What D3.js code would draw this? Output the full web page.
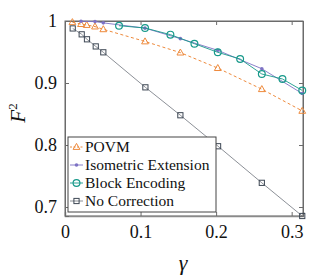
<!DOCTYPE html>
<html>
<head>
<meta charset="utf-8">
<script src="https://cdn.jsdelivr.net/npm/d3@7"></script>
<style>
  body { margin: 0; background: #fff; }
</style>
</head>
<body>
<div id="chart"></div>
<script>
const W = 334, H = 278;
const margin = {left: 65, right: 31, top: 21, bottom: 62};
const serif = "'Liberation Serif'";

// data
const gamma_povm = [0.0098, 0.0212, 0.0287, 0.0397, 0.0507, 0.1059, 0.1527, 0.2022, 0.2605, 0.314];
const f2_povm = [0.998, 0.995, 0.9935, 0.991, 0.9866, 0.967, 0.949, 0.924, 0.890, 0.855];

const gamma_iso = [0.0212, 0.0397, 0.0507, 0.1059, 0.1527, 0.2022, 0.2605, 0.314];
const f2_iso = [0.9995, 0.999, 0.997, 0.9885, 0.9715, 0.9527, 0.923, 0.883];

const gamma_block = [0.0715, 0.1059, 0.1395, 0.1713, 0.2022, 0.2318, 0.2605, 0.2878, 0.314];
const f2_block = [0.9924, 0.9887, 0.978, 0.9634, 0.9495, 0.9387, 0.9145, 0.9065, 0.888];

const gamma_none = [0.0102, 0.0221, 0.0291, 0.0407, 0.0507, 0.1064, 0.1527, 0.2026, 0.2605, 0.314];
const f2_none = [0.988, 0.9785, 0.9705, 0.959, 0.9495, 0.893, 0.848, 0.798, 0.739, 0.6855];

const x_ticks = [0, 0.1, 0.2, 0.3];
const y_ticks = [0.7, 0.8, 0.9, 1];

const series = [
  {name: "POVM", g: gamma_povm, v: f2_povm, color: "#ee8a3c", dash: "3,2.5", marker: "triangle", lw: 1},
  {name: "Isometric Extension", g: gamma_iso, v: f2_iso, color: "#7d72c4", dash: null, marker: "dot", lw: 0.9},
  {name: "Block Encoding", g: gamma_block, v: f2_block, color: "#17998a", dash: null, marker: "circle", lw: 0.9},
  {name: "No Correction", g: gamma_none, v: f2_none, color: "#3d4754", dash: null, marker: "square", lw: 0.8, lineColor: "#6e747c"}
];

const svg = d3.select("#chart").append("svg")
  .attr("width", W).attr("height", H);

const x = d3.scaleLinear().domain([0, 0.315]).range([margin.left, W - margin.right]);
const y = d3.scaleLinear().domain([0.6855, 1]).range([H - margin.bottom, margin.top]);

const axis_color = "#6b6b6b";

// box
svg.append("rect")
  .attr("x", x(0)).attr("y", y(1))
  .attr("width", x(0.315) - x(0)).attr("height", y(0.6855) - y(1))
  .attr("fill", "none").attr("stroke", axis_color).attr("stroke-width", 1);

// inward ticks
const tl = 4;
svg.append("g").attr("transform", `translate(0,${y(0.6855)})`)
  .call(d3.axisBottom(x).tickValues(x_ticks).tickSize(-tl).tickFormat(d => d === 0 ? "0" : d3.format(".1f")(d)).tickPadding(9))
  .call(g => g.attr("font-family", null))
  .call(g => g.select(".domain").attr("stroke", "#8a8a8a").attr("stroke-width", 1.5))
  .call(g => g.selectAll("line").attr("stroke", axis_color))
  .call(g => g.selectAll("text").attr("font-size", 18).attr("fill", "#111")
    .style("font-family", serif));
svg.append("g").attr("transform", `translate(0,${y(1)})`)
  .call(d3.axisTop(x).tickValues(x_ticks).tickSize(-tl).tickFormat(""))
  .call(g => g.select(".domain").attr("stroke", axis_color))
  .call(g => g.selectAll("line").attr("stroke", axis_color));
svg.append("g").attr("transform", `translate(${x(0)},0)`)
  .call(d3.axisLeft(y).tickValues(y_ticks).tickSize(-tl).tickFormat(d => d === 1 ? "1" : d3.format(".1f")(d)).tickPadding(8))
  .call(g => g.attr("font-family", null))
  .call(g => g.select(".domain").attr("stroke", axis_color))
  .call(g => g.selectAll("line").attr("stroke", axis_color))
  .call(g => g.selectAll("text").attr("font-size", 18).attr("fill", "#111")
    .style("font-family", serif));
svg.append("g").attr("transform", `translate(${x(0.315)},0)`)
  .call(d3.axisRight(y).tickValues(y_ticks).tickSize(-tl).tickFormat(""))
  .call(g => g.select(".domain").attr("stroke", axis_color))
  .call(g => g.selectAll("line").attr("stroke", axis_color));

// markers
function drawMarker(g, type, cx, cy, color) {
  if (type === "triangle") {
    g.append("path").attr("d", `M${cx},${cy - 3.6}L${cx + 3.4},${cy + 2.4}L${cx - 3.4},${cy + 2.4}Z`)
      .attr("fill", "none").attr("stroke", color).attr("stroke-width", 1);
  } else if (type === "dot") {
    g.append("circle").attr("cx", cx).attr("cy", cy).attr("r", 1.8).attr("fill", color);
  } else if (type === "circle") {
    g.append("circle").attr("cx", cx).attr("cy", cy).attr("r", 3.4)
      .attr("fill", "none").attr("stroke", color).attr("stroke-width", 1.2);
  } else if (type === "square") {
    g.append("rect").attr("x", cx - 2.6).attr("y", cy - 2.6).attr("width", 5.2).attr("height", 5.2)
      .attr("fill", "none").attr("stroke", color).attr("stroke-width", 1);
  }
}

const line = d3.line().x(d => x(d[0])).y(d => y(d[1]));

series.forEach(s => {
  const pts = s.g.map((g, i) => [g, s.v[i]]);
  const g = svg.append("g");
  g.append("path").datum(pts).attr("d", line)
    .attr("fill", "none").attr("stroke", s.lineColor || s.color)
    .attr("stroke-width", s.lw).attr("stroke-dasharray", s.dash);
  pts.forEach(p => drawMarker(g, s.marker, x(p[0]), y(p[1]), s.color));
});

// legend
const lg = svg.append("g");
const lx = 68, ly = 137, lw = 148, lh = 75;
lg.append("rect").attr("x", lx).attr("y", ly).attr("width", lw).attr("height", lh)
  .attr("fill", "#fff").attr("stroke", "#444").attr("stroke-width", 1);
series.forEach((s, i) => {
  const yy = ly + 10 + i * 18;
  lg.append("line").attr("x1", lx + 2).attr("x2", lx + 15).attr("y1", yy).attr("y2", yy)
    .attr("stroke", s.lineColor || s.color).attr("stroke-width", s.lw)
    .attr("stroke-dasharray", s.dash ? "2,1.5" : null);
  drawMarker(lg, s.marker, lx + 8.5, yy, s.color);
  lg.append("text").attr("x", lx + 17).attr("y", yy).attr("dy", "0.35em")
    .attr("font-size", 15.5).attr("fill", "#111").style("font-family", serif).text(s.name);
});

// axis titles
svg.append("text").attr("x", 183).attr("y", 270).attr("text-anchor", "middle")
  .style("font-family", serif)
  .attr("font-size", 22).attr("font-style", "italic").attr("fill", "#111").text("γ");
const yl = svg.append("text").attr("transform", "translate(25,113) rotate(-90)")
  .style("font-family", serif)
  .attr("text-anchor", "middle").attr("font-size", 21).attr("font-style", "italic").attr("fill", "#111");
yl.append("tspan").text("F");
yl.append("tspan").attr("dy", -8).attr("font-size", 13).attr("font-style", "normal").text("2");
</script>
</body>
</html>
